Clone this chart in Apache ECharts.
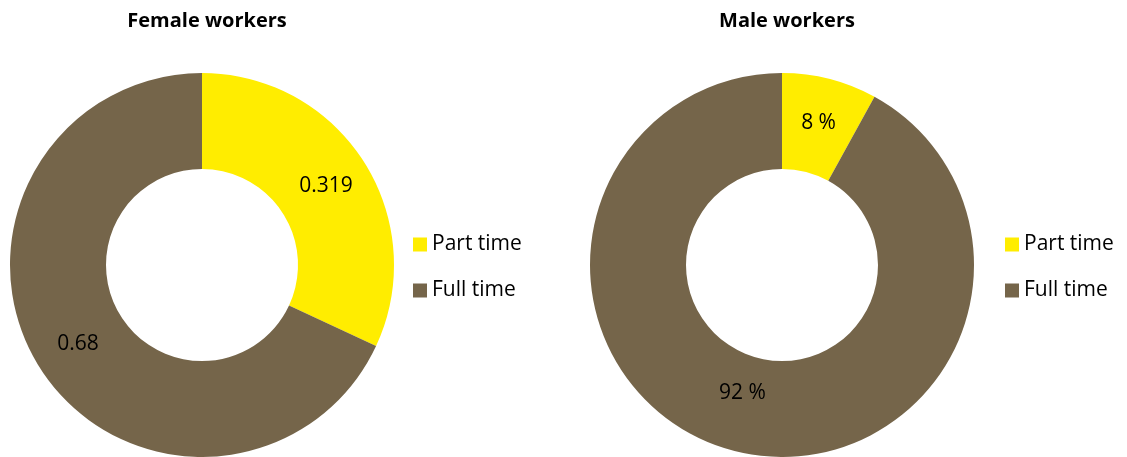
<!DOCTYPE html>
<html>
<head>
<meta charset="utf-8">
<script src="https://cdn.jsdelivr.net/npm/echarts@6/dist/echarts.min.js"></script>
<style>
  html, body { margin: 0; padding: 0; background: #fff; }
  #chart { width: 1127px; height: 457px; }
</style>
</head>
<body>
<div id="chart"></div>
<script>
var categories = ['Part time', 'Full time'];
var femaleValues = [0.319, 0.68];
var maleValues = [8, 92];
var titles = ['Female workers', 'Male workers'];

var colors = ['#ffed00', '#75654a'];
var fontFam = '"Open Sans", "Noto Sans", sans-serif';

function makeData(vals) {
    var out = [];
    for (var i = 0; i < vals.length; i++) {
        out.push({ name: categories[i], value: vals[i] });
    }
    return out;
}

var option = {
    backgroundColor: '#fff',
    color: colors,
    animation: false,
    title: [{
        text: titles[0],
        left: 202, top: 6,
        textAlign: 'center',
        textStyle: { fontFamily: fontFam, fontSize: 20, fontWeight: 'bold', color: '#000' }
    }, {
        text: titles[1],
        left: 782, top: 6,
        textAlign: 'center',
        textStyle: { fontFamily: fontFam, fontSize: 20, fontWeight: 'bold', color: '#000' }
    }],
    legend: [{
        orient: 'vertical',
        left: 408, top: 229,
        itemWidth: 14, itemHeight: 14, itemGap: 25,
        icon: 'rect',
        data: categories,
        textStyle: { fontFamily: fontFam, fontSize: 21, color: '#000' }
    }, {
        orient: 'vertical',
        left: 1000, top: 229,
        itemWidth: 14, itemHeight: 14, itemGap: 25,
        icon: 'rect',
        data: categories,
        textStyle: { fontFamily: fontFam, fontSize: 21, color: '#000' }
    }],
    series: [{
        type: 'pie',
        center: [202, 265],
        radius: [96, 192],
        startAngle: 90,
        clockwise: true,
        label: {
            position: 'inside',
            formatter: '{c}',
            fontFamily: fontFam, fontSize: 21, color: '#000'
        },
        labelLine: { show: false },
        itemStyle: { borderWidth: 0 },
        data: makeData(femaleValues)
    }, {
        type: 'pie',
        center: [782, 265],
        radius: [96, 192],
        startAngle: 90,
        clockwise: true,
        label: {
            position: 'inside',
            formatter: '{c} %',
            fontFamily: fontFam, fontSize: 21, color: '#000'
        },
        // the big slice label sits a bit higher in the original
        labelLayout: function (p) {
            if (p.dataIndex === 1) {
                return { dx: -3, dy: -14 };
            }
            return {};
        },
        labelLine: { show: false },
        itemStyle: { borderWidth: 0 },
        data: makeData(maleValues)
    }]
};

var myChart = echarts.init(document.getElementById('chart'));
myChart.setOption(option);
</script>
</body>
</html>
